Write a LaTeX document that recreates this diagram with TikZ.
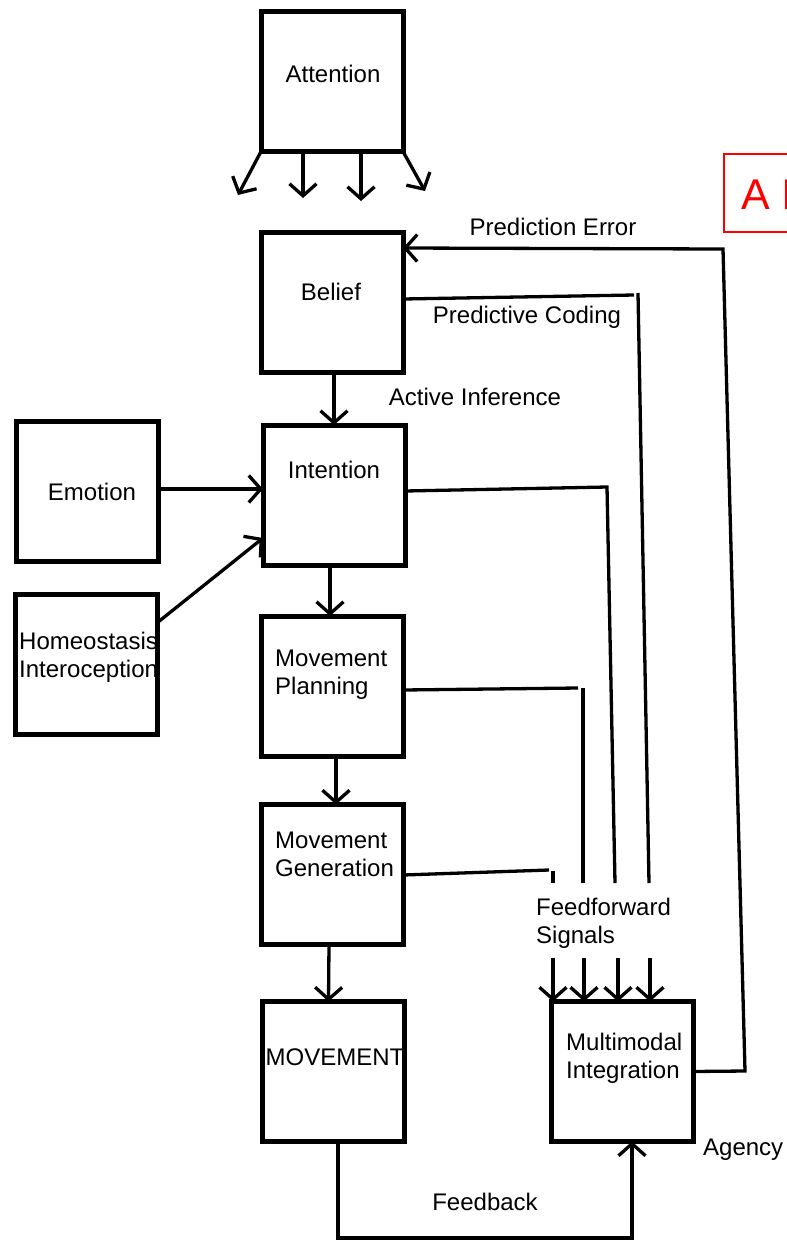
\documentclass[tikz,border=0pt]{standalone}
\usepackage{fontspec}
\setmainfont{Liberation Sans}
\usetikzlibrary{arrows.meta}
\begin{document}
\begin{tikzpicture}[x=1pt,y=-1pt,
  every node/.style={font=\fontsize{24}{28}\selectfont, inner sep=0pt},
  box/.style={draw, line width=5pt, minimum width=142pt, minimum height=140pt, inner sep=0pt, outer sep=0pt},
  txt/.style={align=left},
  link/.style={line width=3.3pt},
  arr/.style={line width=3.3pt, -{Straight Barb[length=12pt,width=27pt]}},
  redbox/.style={draw=red, line width=1.5pt, minimum width=90pt, minimum height=78pt, anchor=north west},
]
\useasboundingbox (0,0) rectangle (787,1240);
\begin{scope}
\clip (0,0) rectangle (787,1240);

% boxes
\node[box] (att)  at (332,81.5)   {};
\node[box] (bel)  at (332,302.5)  {};
\node[box] (int)  at (334,495)    {};
\node[box] (emo)  at (87,491.5)   {};
\node[box] (hom)  at (86.5,664.5) {};
\node[box] (mpl)  at (332,686)    {};
\node[box] (mgen) at (332,874.5)  {};
\node[box] (mov)  at (333.5,1071.5) {};
\node[box] (mmi)  at (622,1071.5) {};

% box labels
\node (tatt) at (333,74) {Attention};
\node (tbel) at (331,292) {Belief};
\node (tint) at (334,470) {Intention};
\node (temo) at (92,492) {Emotion};
\node[txt, anchor=west] (thom) at (19,657) {Homeostasis\\Interoception};
\node[txt, anchor=west] (tmpl) at (275,675) {Movement\\Planning};
\node[txt, anchor=west] (tmgen) at (275,854) {Movement\\Generation};
\node (tmov) at (335,1057) {MOVEMENT};
\node[txt, anchor=west] (tmmi) at (566,1058) {Multimodal\\Integration};

% connector labels
\node (lai) at (475,397) {Active Inference};
\node (lpe) at (553,227) {Prediction Error};
\node (lpc) at (527,317) {Predictive Coding};
\node[txt, anchor=west] (lff) at (536,923) {Feedforward\\Signals};
\node (lfb) at (485,1202) {Feedback};
\node[anchor=west] (lag) at (703,1150) {Agency};

% tag in the upper right corner, running off the right edge
\node[redbox] (tag) at (723,153) {};
\node[anchor=west, text=red, font=\fontsize{43}{46}\selectfont] (tagtxt) at (741,195) {A I};

% attention spreading downwards
\coordinate (a1) at (238,195);
\coordinate (a2) at (303,198);
\coordinate (a3) at (361,201);
\coordinate (a4) at (425,191);
\draw[arr] (att.south west) -- (a1);
\draw[arr] ([xshift=-29pt]att.south) -- (a2);
\draw[arr] ([xshift=29pt]att.south) -- (a3);
\draw[arr] (att.south east) -- (a4);

% main chain
\draw[arr] ([xshift=2pt]bel.south) -- ([xshift=0pt]int.north);
\draw[arr] (emo.east |- 0,489) -- (int.west |- 0,489);
\draw[arr] ([yshift=42pt]hom.east) -- ([yshift=-43pt]int.west);
\draw[arr] ([xshift=-4pt]int.south) -- ([xshift=-2pt]mpl.north);
\draw[arr] ([xshift=4pt]mpl.south) -- ([xshift=4pt]mgen.north);
\draw[arr] ([xshift=-3pt]mgen.south) -- ([xshift=-5pt]mov.north);

% prediction error loop
\coordinate (pe1) at (745,1071);
\coordinate (pe2) at (723,249);
\draw[arr] (mmi.east) -- (pe1) -- (pe2) -- (bel.east |- 0,248);

% feedforward lines
\coordinate (pc1) at (634,295);
\coordinate (pc2) at (638,293);
\coordinate (pc3) at (649,883);
\draw[link] (bel.east |- 0,299) -- (pc1);
\draw[link] (pc2) -- (pc3);

\coordinate (in1) at (607,487);
\coordinate (in2) at (615,883);
\draw[link] (int.east |- 0,491) -- (in1) -- (in2);

\coordinate (mp1) at (578,688);
\coordinate (mp2) at (583,688);
\coordinate (mp3) at (583,883);
\draw[link] (mpl.east |- 0,690) -- (mp1);
\draw[link] (mp2) -- (mp3);

\coordinate (mg1) at (549,870);
\coordinate (mg2) at (553,871);
\coordinate (mg3) at (553,883);
\draw[link] (mgen.east |- 0,875) -- (mg1);
\draw[link] (mg2) -- (mg3);

% feedforward arrows into integration
\coordinate (f1) at (553,958);
\coordinate (f2) at (584,958);
\coordinate (f3) at (618,958);
\coordinate (f4) at (650,958);
\draw[arr] (f1) -- (f1 |- mmi.north);
\draw[arr] (f2) -- (f2 |- mmi.north);
\draw[arr] (f3) -- (f3 |- mmi.north);
\draw[arr] (f4) -- (f4 |- mmi.north);

% feedback loop
\coordinate (fb1) at (338,1238);
\coordinate (fb2) at (632,1238);
\draw[arr] (mov.south -| fb1) -- (fb1) -- (fb2) -- (mmi.south -| fb2);
\end{scope}
\end{tikzpicture}
\end{document}
